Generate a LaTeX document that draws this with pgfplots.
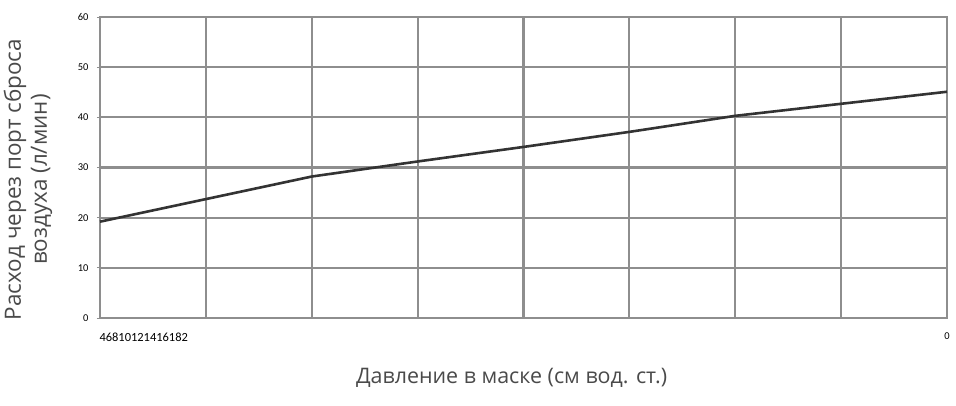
\documentclass[border=0pt]{standalone}
\usepackage{pgfplots}
\pgfplotsset{compat=1.18}
\usepackage{fontspec}
\setmainfont{Open Sans}
\newfontfamily\tickfont{Carlito}
\definecolor{gridc}{HTML}{8E8E8E}
\definecolor{linec}{HTML}{333333}
\definecolor{txtc}{HTML}{4A4A4A}
\begin{document}
\begin{tikzpicture}
\useasboundingbox (-100bp,-88bp) rectangle (856bp,318bp);
\begin{axis}[
  at={(0,0)}, anchor=south west,
  scale only axis,
  width=847bp, height=301bp,
  xmin=4, xmax=20, ymin=0, ymax=60,
  xtick={4,6,8,10,12,14,16,18,20},
  xticklabels={,,,,,,,,0},
  xticklabel style={font=\tickfont\fontsize{10.5}{11}\selectfont, text=black, yshift=-8bp},
  extra x ticks={4},
  extra x tick labels={46810121416182},
  extra x tick style={grid=none, major tick length=0pt,
    xticklabel style={anchor=north west, xshift=-4bp, yshift=-3bp,
      font=\tickfont\fontsize{12.5}{13}\selectfont}},
  ytick={0,10,20,30,40,50,60},
  grid=major,
  major grid style={draw=gridc, line width=2.2bp},
  axis line style={draw=gridc, line width=2.2bp},
  xtick style={draw=none},
  ytick pos=left,
  tick align=outside,
  ytick style={draw=gridc, line width=1bp},
  major tick length=3bp,
  yticklabel style={font=\tickfont\fontsize{10.5}{11}\selectfont, text=black, xshift=-5bp},
  /pgf/number format/assume math mode=true,
  xlabel={Давление в маске (см вод. ст.)},
  xlabel style={at={(axis description cs:0.486,-0.2)}, anchor=center,
    font=\fontsize{21.5}{24}\selectfont, text=txtc},
  ylabel={Расход через порт сброса\\воздуха (л/мин)},
  ylabel style={at={(axis description cs:-0.085,0.46)}, anchor=center,
    align=center, font=\fontsize{22.5}{26}\selectfont, text=txtc},
  clip=false,
]
\addplot[draw=linec, line width=2.6bp] coordinates {
  (4,19.2) (6,23.7) (8,28.2) (10,31.2) (12,34.1) (14,37.1) (16,40.3) (18,42.7) (20,45.1)
};
\end{axis}
\end{tikzpicture}
\end{document}
